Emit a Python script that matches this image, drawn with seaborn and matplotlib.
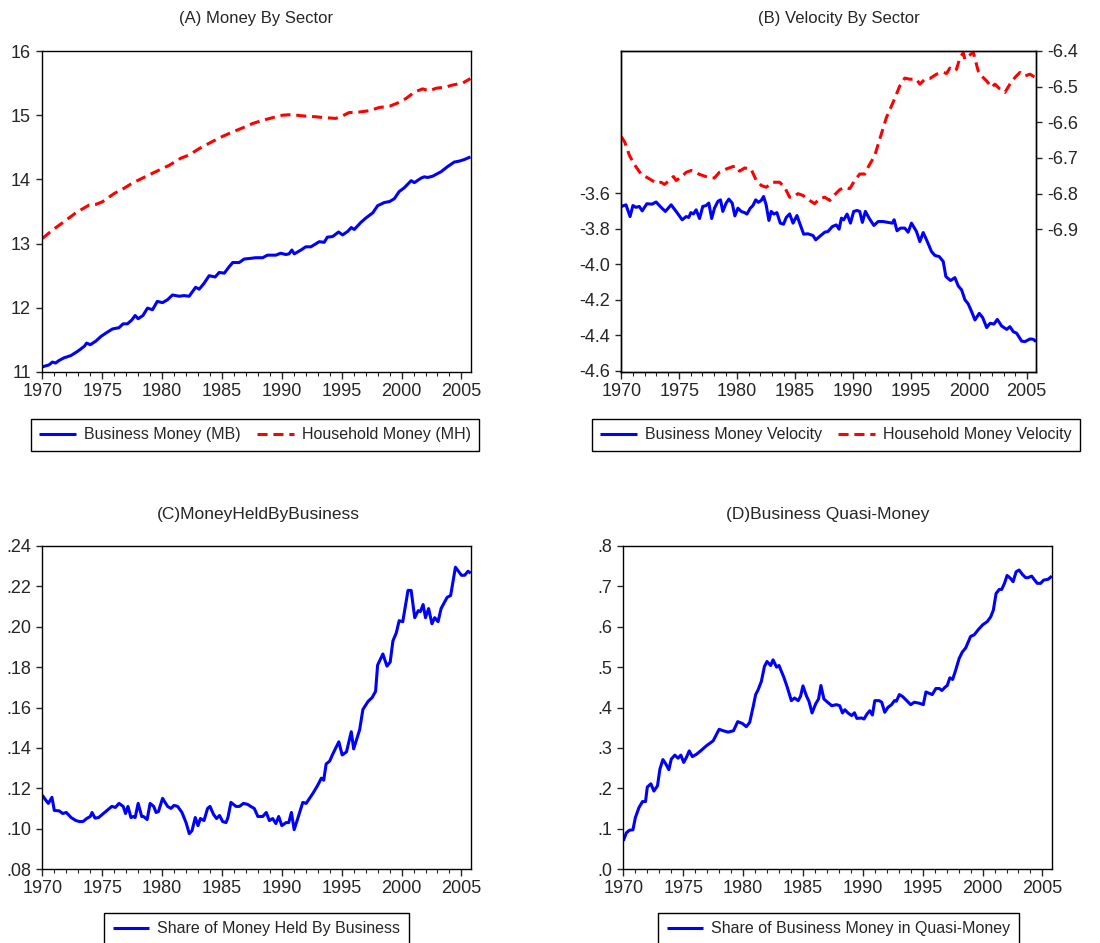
import matplotlib
matplotlib.use("Agg")
import matplotlib.pyplot as plt
import matplotlib.ticker as mticker
import seaborn as sns

# --- data (year, value) ---
# (A) Money by sector
mb_years = [1970.0, 1970.55, 1970.84, 1971.1, 1971.4,
            1971.8, 1972.37, 1972.93, 1973.5, 1973.7,
            1974.0, 1974.46, 1974.9, 1975.3, 1975.85,
            1976.4, 1976.74, 1977.1, 1977.47, 1977.75,
            1978.0, 1978.4, 1978.78, 1979.2, 1979.6,
            1980.03, 1980.45, 1980.87, 1981.42, 1981.84,
            1982.26, 1982.8, 1983.1, 1983.5, 1983.93,
            1984.43, 1984.77, 1985.2, 1985.6, 1985.9,
            1986.44, 1986.86, 1987.4, 1987.8, 1988.4,
            1988.8, 1989.5, 1989.9, 1990.34, 1990.6,
            1990.84, 1991.04, 1991.6, 1992.0, 1992.43,
            1993.13, 1993.54, 1993.8, 1994.24, 1994.74,
            1995.08, 1995.5, 1995.8, 1996.05, 1996.6,
            1997.03, 1997.6, 1998.0, 1998.56, 1999.0,
            1999.4, 1999.8, 2000.23, 2000.8, 2001.07,
            2001.63, 2001.9, 2002.18, 2002.6, 2002.9,
            2003.3, 2003.85, 2004.4, 2004.83, 2005.25,
            2005.75]
mb_vals = [11.08, 11.11, 11.155, 11.14, 11.18,
           11.22, 11.255, 11.32, 11.40, 11.45,
           11.425, 11.48, 11.555, 11.605, 11.67,
           11.69, 11.75, 11.75, 11.81, 11.88,
           11.83, 11.88, 11.995, 11.97, 12.10,
           12.08, 12.125, 12.20, 12.18, 12.19,
           12.18, 12.32, 12.29, 12.38, 12.50,
           12.48, 12.55, 12.54, 12.64, 12.705,
           12.705, 12.76, 12.77, 12.78, 12.78,
           12.82, 12.82, 12.85, 12.83, 12.84,
           12.90, 12.84, 12.90, 12.95, 12.95,
           13.03, 13.02, 13.10, 13.11, 13.18,
           13.135, 13.19, 13.25, 13.22, 13.33,
           13.40, 13.48, 13.59, 13.64, 13.655,
           13.70, 13.81, 13.87, 13.98, 13.95,
           14.02, 14.04, 14.03, 14.05, 14.08,
           14.12, 14.20, 14.27, 14.285, 14.31,
           14.35]

mh_years = [1970.0, 1970.84, 1971.8, 1972.8, 1973.9,
            1974.46, 1975.0, 1976.0, 1976.8, 1977.5,
            1978.36, 1979.47, 1980.6, 1981.56, 1982.26,
            1983.1, 1984.2, 1985.05, 1985.9, 1986.7,
            1987.55, 1988.4, 1989.2, 1990.06, 1990.9,
            1991.45, 1992.0, 1992.85, 1993.7, 1994.5,
            1995.08, 1995.6, 1996.5, 1997.3, 1998.14,
            1999.0, 1999.67, 2000.37, 2001.07, 2001.76,
            2002.3, 2002.9, 2003.7, 2004.27, 2005.1,
            2005.75]
mh_vals = [13.08, 13.21, 13.34, 13.48, 13.60,
           13.61, 13.65, 13.78, 13.86, 13.94,
           14.02, 14.12, 14.22, 14.33, 14.38,
           14.48, 14.59, 14.67, 14.74, 14.80,
           14.87, 14.92, 14.96, 15.00, 15.01,
           14.995, 14.985, 14.975, 14.96, 14.95,
           14.99, 15.04, 15.05, 15.07, 15.12,
           15.14, 15.19, 15.26, 15.36, 15.41,
           15.38, 15.42, 15.44, 15.47, 15.50,
           15.57]

# (B) Velocity by sector
vb_years = [1970.0, 1970.4, 1970.75, 1971.0, 1971.27,
            1971.55, 1971.8, 1972.2, 1972.65, 1973.0,
            1973.43, 1973.8, 1974.3, 1974.73, 1975.25,
            1975.6, 1975.82, 1976.0, 1976.23, 1976.46,
            1976.75, 1977.03, 1977.32, 1977.55, 1977.8,
            1978.04, 1978.33, 1978.56, 1978.76, 1979.05,
            1979.28, 1979.57, 1979.8, 1980.06, 1980.35,
            1980.64, 1980.84, 1981.13, 1981.36, 1981.6,
            1981.82, 1982.08, 1982.28, 1982.5, 1982.74,
            1982.94, 1983.17, 1983.43, 1983.72, 1984.0,
            1984.24, 1984.53, 1984.82, 1985.16, 1985.45,
            1985.74, 1986.11, 1986.55, 1986.78, 1987.12,
            1987.56, 1987.84, 1988.22, 1988.56, 1988.8,
            1989.0, 1989.2, 1989.49, 1989.78, 1990.06,
            1990.35, 1990.58, 1990.81, 1991.07, 1991.39,
            1991.8, 1992.17, 1992.6, 1993.03, 1993.4,
            1993.55, 1993.8, 1994.1, 1994.47, 1994.76,
            1995.05, 1995.48, 1995.77, 1996.06, 1996.35,
            1996.78, 1997.07, 1997.44, 1997.79, 1998.02,
            1998.42, 1998.8, 1999.09, 1999.38, 1999.66,
            1999.95, 2000.24, 2000.53, 2000.9, 2001.19,
            2001.54, 2001.83, 2002.17, 2002.46, 2002.83,
            2003.27, 2003.55, 2003.84, 2004.13, 2004.56,
            2004.85, 2005.28, 2005.57, 2005.8]
vb_vals = [-3.675, -3.666, -3.732, -3.670, -3.680,
           -3.675, -3.700, -3.660, -3.662, -3.650,
           -3.680, -3.703, -3.666, -3.703, -3.750,
           -3.732, -3.737, -3.710, -3.717, -3.694,
           -3.743, -3.675, -3.670, -3.656, -3.743,
           -3.685, -3.647, -3.638, -3.703, -3.656,
           -3.634, -3.656, -3.728, -3.685, -3.703,
           -3.710, -3.718, -3.685, -3.670, -3.638,
           -3.652, -3.641, -3.619, -3.666, -3.754,
           -3.703, -3.718, -3.710, -3.769, -3.775,
           -3.737, -3.717, -3.769, -3.726, -3.779,
           -3.831, -3.829, -3.839, -3.863, -3.844,
           -3.820, -3.816, -3.788, -3.779, -3.803,
           -3.741, -3.750, -3.718, -3.769, -3.703,
           -3.698, -3.703, -3.765, -3.703, -3.741,
           -3.782, -3.760, -3.760, -3.765, -3.769,
           -3.750, -3.812, -3.797, -3.797, -3.820,
           -3.769, -3.816, -3.873, -3.822, -3.863,
           -3.929, -3.951, -3.957, -3.985, -4.070,
           -4.092, -4.076, -4.123, -4.145, -4.200,
           -4.224, -4.267, -4.314, -4.277, -4.300,
           -4.357, -4.333, -4.337, -4.311, -4.348,
           -4.367, -4.352, -4.380, -4.389, -4.433,
           -4.436, -4.421, -4.423, -4.436]

vh_years = [1970.0, 1970.3, 1970.7, 1971.1, 1971.7,
            1972.4, 1973.06, 1973.43, 1973.72, 1974.15,
            1974.5, 1974.73, 1975.16, 1975.6, 1976.03,
            1976.75, 1977.47, 1978.04, 1978.47, 1979.05,
            1979.63, 1979.92, 1980.2, 1980.64, 1981.2,
            1981.65, 1982.08, 1982.5, 1983.09, 1983.66,
            1984.1, 1984.53, 1984.82, 1985.25, 1985.68,
            1986.26, 1986.69, 1987.12, 1987.56, 1987.99,
            1988.42, 1988.85, 1989.29, 1989.72, 1990.15,
            1990.58, 1991.01, 1991.3, 1991.88, 1992.31,
            1992.89, 1993.46, 1994.04, 1994.47, 1994.9,
            1995.48, 1995.77, 1996.2, 1996.64, 1997.21,
            1997.79, 1998.08, 1998.36, 1998.65, 1998.94,
            1999.23, 1999.52, 1999.66, 2000.1, 2000.38,
            2000.81, 2001.1, 2001.54, 2001.97, 2002.26,
            2002.69, 2003.12, 2003.55, 2003.99, 2004.42,
            2004.85, 2005.28, 2005.72]
vh_vals = [-6.640, -6.656, -6.693, -6.717, -6.745,
           -6.758, -6.771, -6.768, -6.774, -6.763,
           -6.752, -6.763, -6.754, -6.740, -6.735,
           -6.746, -6.754, -6.756, -6.740, -6.731,
           -6.724, -6.723, -6.737, -6.728, -6.731,
           -6.763, -6.777, -6.782, -6.768, -6.768,
           -6.782, -6.810, -6.810, -6.800, -6.805,
           -6.819, -6.828, -6.814, -6.810, -6.819,
           -6.803, -6.789, -6.782, -6.786, -6.763,
           -6.745, -6.745, -6.726, -6.693, -6.647,
           -6.586, -6.544, -6.498, -6.476, -6.479,
           -6.479, -6.493, -6.479, -6.477, -6.465,
           -6.460, -6.463, -6.448, -6.456, -6.451,
           -6.419, -6.405, -6.423, -6.411, -6.403,
           -6.456, -6.470, -6.484, -6.502, -6.493,
           -6.507, -6.516, -6.493, -6.474, -6.460,
           -6.470, -6.465, -6.474]

# (C) Money held by business
share_years = [1970.0, 1970.3, 1970.5, 1970.8, 1971.0,
               1971.4, 1971.7, 1972.0, 1972.4, 1972.8,
               1973.1, 1973.4, 1973.7, 1974.0, 1974.15,
               1974.4, 1974.7, 1975.0, 1975.4, 1975.8,
               1976.1, 1976.4, 1976.75, 1976.95, 1977.15,
               1977.4, 1977.6, 1977.75, 1978.0, 1978.3,
               1978.45, 1978.75, 1979.0, 1979.3, 1979.5,
               1979.7, 1980.04, 1980.46, 1980.74, 1981.0,
               1981.3, 1981.66, 1982.0, 1982.27, 1982.5,
               1982.77, 1983.0, 1983.2, 1983.5, 1983.8,
               1984.0, 1984.3, 1984.55, 1984.8, 1985.06,
               1985.34, 1985.5, 1985.75, 1986.17, 1986.45,
               1986.8, 1987.15, 1987.4, 1987.7, 1988.0,
               1988.4, 1988.7, 1988.96, 1989.24, 1989.5,
               1989.74, 1990.0, 1990.36, 1990.58, 1990.8,
               1991.03, 1991.33, 1991.75, 1992.03, 1992.6,
               1993.0, 1993.3, 1993.5, 1993.7, 1994.0,
               1994.26, 1994.76, 1995.04, 1995.4, 1995.8,
               1996.0, 1996.5, 1996.77, 1997.2, 1997.55,
               1997.83, 1998.0, 1998.44, 1998.78, 1999.05,
               1999.28, 1999.56, 1999.8, 2000.1, 2000.54,
               2000.8, 2001.1, 2001.4, 2001.57, 2001.8,
               2002.0, 2002.26, 2002.54, 2002.77, 2003.05,
               2003.3, 2003.8, 2004.1, 2004.5, 2005.0,
               2005.27, 2005.55, 2005.78]
share_vals = [.1165, .1140, .1125, .1155, .1090,
              .1088, .1075, .1080, .1055, .1040,
              .1035, .1035, .1050, .1060, .1080,
              .1052, .1055, .1070, .1090, .1110,
              .1105, .1125, .1110, .1075, .1110,
              .1055, .1060, .1055, .1125, .1060,
              .1060, .1045, .1125, .1110, .1080,
              .1085, .1150, .1110, .1100, .1115,
              .1110, .1080, .1030, .0975, .0990,
              .1055, .1015, .1050, .1040, .1100,
              .1110, .1070, .1050, .1065, .1035,
              .1030, .1055, .1130, .1110, .1110,
              .1125, .1120, .1110, .1100, .1060,
              .1060, .1080, .1040, .1050, .1025,
              .1060, .1015, .1030, .1030, .1080,
              .0995, .1050, .1130, .1125, .1175,
              .1215, .1250, .1240, .1320, .1335,
              .1370, .1430, .1365, .1380, .1480,
              .1395, .1490, .1590, .1630, .1650,
              .1680, .1810, .1865, .1805, .1825,
              .1930, .1970, .2030, .2025, .2180,
              .2180, .2045, .2080, .2075, .2110,
              .2045, .2090, .2015, .2045, .2025,
              .2090, .2145, .2155, .2295, .2255,
              .2255, .2275, .2265]

# (D) Business quasi-money
quasi_years = [1970.0, 1970.25, 1970.5, 1970.8, 1971.0,
               1971.3, 1971.6, 1971.85, 1972.0, 1972.3,
               1972.55, 1972.85, 1973.05, 1973.3, 1973.55,
               1973.8, 1974.0, 1974.3, 1974.57, 1974.8,
               1975.04, 1975.26, 1975.5, 1975.76, 1976.1,
               1976.43, 1976.93, 1977.5, 1978.0, 1978.33,
               1978.75, 1979.2, 1979.55, 1979.94, 1980.27,
               1980.55, 1980.83, 1981.05, 1981.25, 1981.53,
               1981.78, 1982.0, 1982.3, 1982.5, 1982.8,
               1983.0, 1983.4, 1983.67, 1984.03, 1984.3,
               1984.6, 1984.8, 1985.0, 1985.3, 1985.5,
               1985.76, 1986.06, 1986.3, 1986.5, 1986.75,
               1987.0, 1987.4, 1987.8, 1988.07, 1988.3,
               1988.5, 1988.8, 1989.07, 1989.3, 1989.5,
               1989.9, 1990.1, 1990.35, 1990.58, 1990.8,
               1991.0, 1991.36, 1991.58, 1991.83, 1992.1,
               1992.4, 1992.64, 1992.8, 1993.05, 1993.33,
               1993.67, 1994.0, 1994.3, 1994.73, 1995.05,
               1995.27, 1995.55, 1995.8, 1996.1, 1996.4,
               1996.6, 1996.86, 1997.05, 1997.27, 1997.5,
               1997.75, 1998.04, 1998.3, 1998.6, 1999.0,
               1999.3, 1999.65, 2000.0, 2000.4, 2000.68,
               2000.9, 2001.13, 2001.4, 2001.6, 2001.83,
               2002.05, 2002.33, 2002.55, 2002.8, 2003.05,
               2003.33, 2003.6, 2003.8, 2004.1, 2004.3,
               2004.57, 2004.85, 2005.1, 2005.48, 2005.78]
quasi_vals = [.070, .0895, .096, .097, .127,
              .152, .167, .167, .203, .211,
              .193, .206, .247, .271, .260,
              .246, .272, .282, .2745, .282,
              .264, .276, .2925, .2785, .284,
              .292, .305, .3175, .346, .3425,
              .339, .3425, .365, .3605, .3525,
              .363, .4005, .432, .4435, .465,
              .5015, .514, .504, .518, .500,
              .504, .475, .452, .417, .4235,
              .417, .428, .4535, .428, .4155,
              .3865, .409, .421, .4545, .421,
              .4145, .4045, .407, .4045, .3865,
              .3945, .3855, .380, .387, .373,
              .374, .3715, .384, .392, .3815,
              .417, .417, .413, .388, .4005,
              .407, .417, .4155, .432, .427,
              .417, .407, .413, .4105, .407,
              .4385, .435, .432, .447, .447,
              .442, .450, .4545, .4735, .4695,
              .492, .521, .537, .548, .576,
              .580, .593, .6045, .613, .6245,
              .641, .6825, .6925, .6925, .7075,
              .727, .720, .7115, .736, .7405,
              .7295, .7215, .7215, .7255, .7175,
              .7075, .7075, .7155, .7175, .7255]

BLUE = "#0000FF"
RED = "#FF0000"
LW = 2.2
DASH = (0, (3.3, 1.9))

sns.set_style("ticks")
plt.rcParams["font.family"] = ["Liberation Sans", "DejaVu Sans"]
plt.rcParams["axes.linewidth"] = 1.0
plt.rcParams["axes.edgecolor"] = "black"

fig = plt.figure(figsize=(11, 9.43), dpi=100)
W, H = 1100.0, 943.0


def px_axes(left, top, right, bottom):
    return fig.add_axes([left / W, 1 - bottom / H, (right - left) / W, (bottom - top) / H])


def style_x(ax):
    ax.set_xlim(1969.97, 2005.8)
    ax.xaxis.set_major_locator(mticker.MultipleLocator(5))
    ax.xaxis.set_minor_locator(mticker.MultipleLocator(1))
    ax.tick_params(axis="x", which="major", length=5, width=1, labelsize=13, pad=3)
    ax.tick_params(axis="x", which="minor", length=3, width=0.8)
    ax.tick_params(axis="y", which="major", length=4, width=1, labelsize=13, pad=4)
    ax.set_xlabel("")
    ax.set_ylabel("")
    for s in ax.spines.values():
        s.set_visible(True)
        s.set_color("black")


def line(ax, x, y, color, dashed=False, label=None):
    sns.lineplot(x=x, y=y, ax=ax, color=color, lw=LW, errorbar=None, label=label)
    ln = ax.lines[-1]
    if dashed:
        ln.set_linestyle(DASH)
    ln.set_solid_capstyle("butt")
    ln.set_dash_capstyle("butt")
    if ax.get_legend() is not None:
        ax.get_legend().remove()
    return ln


def bottom_legend(handles, labels, cx, cy, colsp):
    leg = fig.legend(handles, labels, loc="center", bbox_to_anchor=(cx / W, 1 - cy / H),
                     ncol=len(handles), frameon=True, fancybox=False, framealpha=1,
                     edgecolor="black", fontsize=11.5, handlelength=2.3,
                     columnspacing=colsp, handletextpad=0.5, borderpad=0.55)
    leg.get_frame().set_linewidth(1.0)
    return leg


# (A) Money By Sector
axA = px_axes(42, 51, 471, 372)
hA1 = line(axA, mb_years, mb_vals, BLUE, label="Business Money (MB)")
hA2 = line(axA, mh_years, mh_vals, RED, dashed=True, label="Household Money (MH)")
axA.set_ylim(11, 16)
axA.yaxis.set_major_locator(mticker.MultipleLocator(1))
style_x(axA)
fig.text(256 / W, 1 - 18 / H, "(A) Money By Sector", ha="center", va="center", fontsize=12)
bottom_legend([hA1, hA2], ["Business Money (MB)", "Household Money (MH)"], 255, 435, 1.0)

# (B) Velocity By Sector
axB = px_axes(621, 51, 1036, 372)
axB2 = axB.twinx()
hB1 = line(axB, vb_years, vb_vals, BLUE, label="Business Money Velocity")
hB2 = line(axB2, vh_years, vh_vals, RED, dashed=True, label="Household Money Velocity")
axB.set_ylim(-4.607, -2.8)
axB.set_yticks([-4.6, -4.4, -4.2, -4.0, -3.8, -3.6])
axB.yaxis.set_major_formatter(mticker.FormatStrFormatter("%.1f"))
axB2.set_ylim(-7.3, -6.4)
axB2.set_yticks([-6.9, -6.8, -6.7, -6.6, -6.5, -6.4])
axB2.yaxis.set_major_formatter(mticker.FormatStrFormatter("%.1f"))
style_x(axB)
axB2.tick_params(axis="y", which="major", length=4, width=1, labelsize=13, pad=4)
axB2.set_ylabel("")
fig.text(839 / W, 1 - 18 / H, "(B) Velocity By Sector", ha="center", va="center", fontsize=12)
bottom_legend([hB1, hB2], ["Business Money Velocity", "Household Money Velocity"], 836, 435, 1.0)

# (C) Money held by business
axC = px_axes(42, 546, 471, 869)
hC = line(axC, share_years, share_vals, BLUE, label="Share of Money Held By Business")
axC.set_ylim(0.08, 0.24)
axC.yaxis.set_major_locator(mticker.MultipleLocator(0.02))
axC.yaxis.set_major_formatter(mticker.FuncFormatter(lambda v, p: f"{v:.2f}".replace("0.", ".", 1)))
style_x(axC)
fig.text(258 / W, 1 - 514 / H, "(C)MoneyHeldByBusiness", ha="center", va="center", fontsize=12.5)
bottom_legend([hC], ["Share of Money Held By Business"], 256.5, 929, 1.0)

# (D) Business quasi-money
axD = px_axes(623, 546, 1052, 869)
hD = line(axD, quasi_years, quasi_vals, BLUE, label="Share of Business Money in Quasi-Money")
axD.set_ylim(0.0, 0.8)
axD.yaxis.set_major_locator(mticker.MultipleLocator(0.1))
axD.yaxis.set_major_formatter(mticker.FuncFormatter(lambda v, p: f"{v:.1f}".replace("0.", ".", 1)))
style_x(axD)
fig.text(828 / W, 1 - 514 / H, "(D)Business Quasi-Money", ha="center", va="center", fontsize=12.5)
bottom_legend([hD], ["Share of Business Money in Quasi-Money"], 838.5, 929, 1.0)

fig.savefig("out.png", dpi=100)
